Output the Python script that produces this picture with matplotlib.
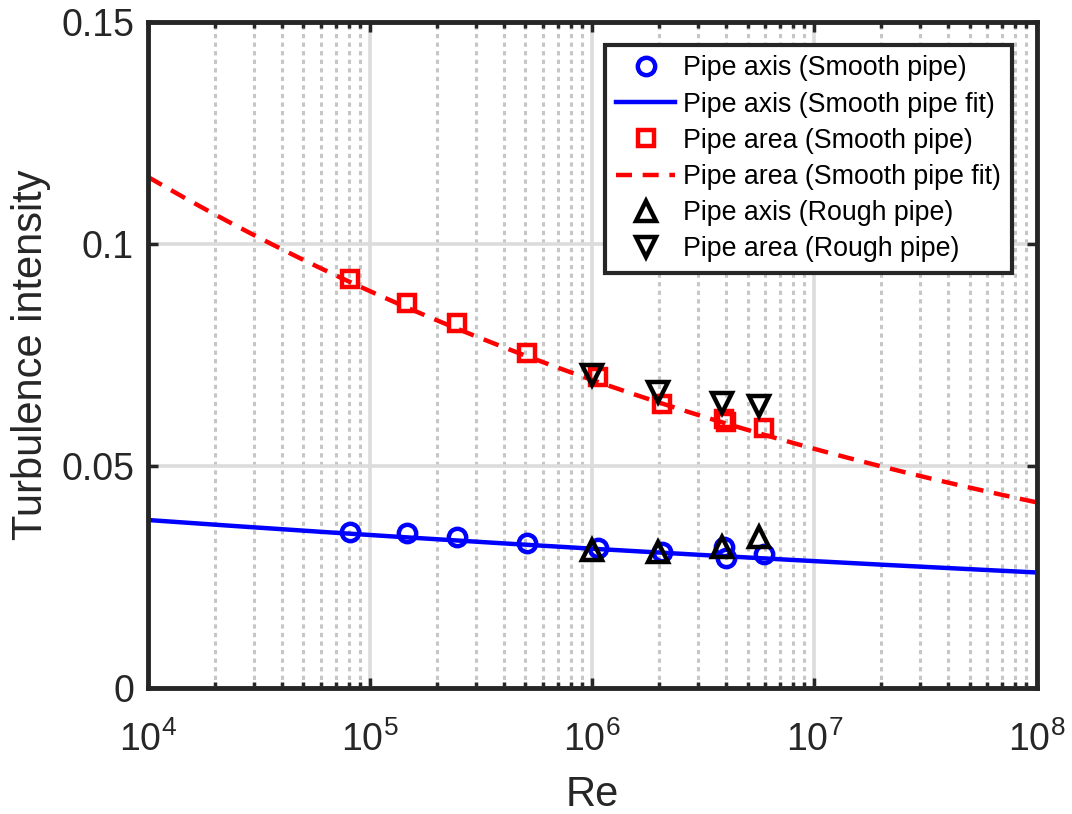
import matplotlib
matplotlib.use("Agg")
import matplotlib.pyplot as plt
from matplotlib.ticker import LogLocator, FixedLocator, FixedFormatter
import numpy as np

plt.rcParams['font.family'] = ['Liberation Sans', 'DejaVu Sans']
plt.rcParams['mathtext.fontset'] = 'custom'
plt.rcParams['mathtext.rm'] = 'Liberation Sans'
plt.rcParams['mathtext.it'] = 'Liberation Sans'
plt.rcParams['mathtext.default'] = 'regular'

# smooth pipe measurements
re_smooth = [8.1e4, 1.46e5, 2.46e5, 5.1e5, 1.06e6, 2.07e6, 3.92e6, 4.0e6, 5.9e6]
axis_smooth = [0.0352, 0.0348, 0.0340, 0.0326, 0.0316, 0.0307, 0.0318, 0.0292, 0.0302]
area_smooth = [0.0920, 0.0866, 0.0821, 0.0754, 0.0700, 0.0639, 0.0605, 0.0598, 0.0586]

# rough pipe measurements
re_rough = [1.0e6, 1.98e6, 3.85e6, 5.63e6]
axis_rough = [0.0311, 0.0305, 0.0318, 0.0340]
area_rough = [0.0705, 0.0667, 0.0642, 0.0636]

# power-law fits I = a * Re^b
fit_axis = (0.0550, -0.0407)
fit_area = (0.317, -0.110)
re_fit = np.logspace(4, 8, 200)

y_ticks = [0, 0.05, 0.1, 0.15]
y_tick_labels = ['0', '0.05', '0.1', '0.15']

dark = '#262626'

fig = plt.figure(figsize=(10.72, 8.14), dpi=100)
ax = fig.add_axes([0.138, 0.155, 0.829, 0.818])

ax.plot(re_smooth, axis_smooth, 'o', color='blue', mfc='none', ms=12.5, mew=3.2,
        label='Pipe axis (Smooth pipe)', zorder=3)
ax.plot(re_fit, fit_axis[0] * re_fit ** fit_axis[1], '-', color='blue', lw=3.2,
        label='Pipe axis (Smooth pipe fit)', zorder=2)
ax.plot(re_smooth, area_smooth, 's', color='red', mfc='none', ms=11.5, mew=3.2,
        label='Pipe area (Smooth pipe)', zorder=3)
ax.plot(re_fit, fit_area[0] * re_fit ** fit_area[1], '--', color='red', lw=3.2,
        dashes=(3.6, 2.4), label='Pipe area (Smooth pipe fit)', zorder=2)
ax.plot(re_rough, axis_rough, '^', color='black', mfc='none', ms=15, mew=3.2,
        label='Pipe axis (Rough pipe)', zorder=4)
ax.plot(re_rough, area_rough, 'v', color='black', mfc='none', ms=15, mew=3.2,
        label='Pipe area (Rough pipe)', zorder=4)

ax.set_xscale('log')
ax.set_xlim(1e4, 1e8)
ax.set_ylim(0, 0.15)
ax.xaxis.set_major_locator(LogLocator(base=10, numticks=10))
ax.xaxis.set_minor_locator(LogLocator(base=10, subs=np.arange(2, 10), numticks=50))
ax.yaxis.set_major_locator(FixedLocator(y_ticks))
ax.yaxis.set_major_formatter(FixedFormatter(y_tick_labels))

ax.grid(True, which='major', color='#dcdcdc', lw=2.6, ls='-')
ax.grid(True, which='minor', axis='x', color='#c6c6c6', lw=2.2, ls=(0, (1.4, 1.4)))
ax.set_axisbelow(True)

for s in ax.spines.values():
    s.set_linewidth(3.5)
    s.set_color(dark)
ax.tick_params(which='both', direction='in', top=True, right=True, colors=dark,
               labelsize=27, labelcolor=dark)
ax.tick_params(which='major', length=7, width=2.5, pad=10)
ax.tick_params(which='minor', length=4, width=2.5)
ax.tick_params(axis='x', which='major', pad=24)

ax.set_xlabel('Re', fontsize=30, color=dark, labelpad=12)
ax.set_ylabel('Turbulence intensity', fontsize=30, color=dark, labelpad=7)

leg = ax.legend(loc='upper right', bbox_to_anchor=(0.972, 0.966), fontsize=19.3,
                frameon=True, fancybox=False, framealpha=1, edgecolor=dark,
                handlelength=2.2, handletextpad=0.3, borderpad=0.4,
                labelspacing=0.38, borderaxespad=0)
leg.get_frame().set_linewidth(3)

fig.savefig('out.png', dpi=100)
